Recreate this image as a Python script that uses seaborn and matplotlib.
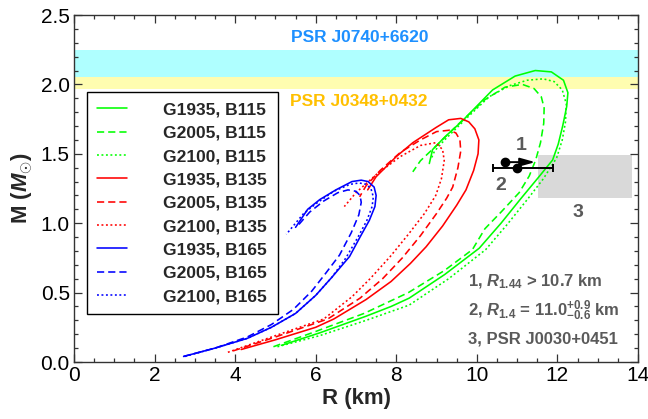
import matplotlib
matplotlib.use("Agg")
import matplotlib.pyplot as plt
from matplotlib.ticker import MultipleLocator, FormatStrFormatter
from matplotlib.patches import Rectangle
import seaborn as sns

# ---------------- data ----------------
labels = ["G1935, B115", "G2005, B115", "G2100, B115",
          "G1935, B135", "G2005, B135", "G2100, B135",
          "G1935, B165", "G2005, B165", "G2100, B165"]

R_G1935_B115 = [5.15, 6.1, 7.25, 7.87, 8.32, 9.2, 10.06, 10.6, 11.1, 11.5, 11.88, 12.02, 12.13, 12.23, 12.26, 12.15, 11.85, 11.45, 10.95, 10.39, 9.65, 9.2, 8.9, 8.82]
M_G1935_B115 = [0.12, 0.21, 0.33, 0.40, 0.46, 0.63, 0.82, 1.00, 1.18, 1.32, 1.455, 1.57, 1.70, 1.84, 1.94, 2.03, 2.09, 2.10, 2.06, 1.96, 1.74, 1.62, 1.53, 1.43]

R_G2005_B115 = [4.95, 6.0, 7.2, 8.3, 9.2, 9.89, 10.2, 10.6, 11.05, 11.3, 11.46, 11.58, 11.66, 11.67, 11.6, 11.42, 11.13, 10.7, 10.2, 9.6, 9.0, 8.6, 8.41]
M_G2005_B115 = [0.11, 0.22, 0.35, 0.50, 0.66, 0.81, 0.96, 1.08, 1.22, 1.34, 1.455, 1.58, 1.72, 1.83, 1.91, 1.97, 2.00, 1.98, 1.89, 1.73, 1.56, 1.45, 1.37]

R_G2100_B115 = [5.05, 6.1, 7.25, 8.32, 9.3, 10.22, 10.75, 11.25, 11.65, 11.98, 12.12, 12.2, 12.22, 12.12, 11.92, 11.65, 11.25, 10.8, 10.3, 9.65, 9.2, 8.95, 8.86]
M_G2100_B115 = [0.11, 0.19, 0.30, 0.41, 0.60, 0.81, 0.99, 1.17, 1.32, 1.47, 1.60, 1.73, 1.86, 1.96, 2.02, 2.04, 2.03, 1.99, 1.91, 1.73, 1.60, 1.52, 1.46]

R_G1935_B135 = [4.15, 5.0, 6.0, 6.45, 7.25, 7.87, 8.35, 8.74, 9.15, 9.5, 9.73, 9.92, 10.03, 10.05, 9.95, 9.8, 9.6, 9.3, 8.99, 8.41, 8.0, 7.5, 7.29]
M_G1935_B135 = [0.09, 0.16, 0.25, 0.31, 0.45, 0.58, 0.71, 0.83, 0.98, 1.13, 1.24, 1.38, 1.50, 1.60, 1.68, 1.73, 1.755, 1.745, 1.69, 1.58, 1.48, 1.335, 1.24]

R_G2005_B135 = [3.95, 5.0, 6.3, 7.1, 7.66, 8.15, 8.6, 9.0, 9.25, 9.40, 9.53, 9.6, 9.58, 9.48, 9.32, 9.0, 8.6, 8.1, 7.6, 7.25, 7.09]
M_G2005_B135 = [0.08, 0.18, 0.31, 0.46, 0.60, 0.75, 0.91, 1.07, 1.18, 1.26, 1.40, 1.52, 1.60, 1.65, 1.67, 1.66, 1.60, 1.51, 1.38, 1.27, 1.19]

R_G2100_B135 = [3.82, 5.0, 6.2, 6.9, 7.35, 7.85, 8.3, 8.7, 8.98, 9.12, 9.19, 9.15, 8.98, 8.6, 8.1, 7.5, 7.0, 6.71]
M_G2100_B135 = [0.07, 0.19, 0.31, 0.47, 0.60, 0.76, 0.92, 1.07, 1.20, 1.32, 1.45, 1.53, 1.58, 1.56, 1.48, 1.35, 1.22, 1.12]

R_G1935_B165 = [2.72, 3.5, 4.3, 4.9, 5.5, 6.0, 6.4, 6.84, 7.1, 7.33, 7.47, 7.5, 7.45, 7.3, 7.13, 6.9, 6.5, 6.1, 5.8, 5.5]
M_G1935_B165 = [0.04, 0.10, 0.17, 0.25, 0.35, 0.48, 0.61, 0.76, 0.90, 1.02, 1.12, 1.20, 1.26, 1.30, 1.31, 1.30, 1.24, 1.17, 1.10, 0.97]

R_G2005_B165 = [2.72, 3.5, 4.3, 4.9, 5.45, 5.9, 6.25, 6.59, 6.88, 7.07, 7.13, 7.1, 7.0, 6.8, 6.55, 6.2, 5.85, 5.52]
M_G2005_B165 = [0.04, 0.10, 0.18, 0.27, 0.38, 0.51, 0.64, 0.77, 0.93, 1.06, 1.15, 1.20, 1.23, 1.24, 1.22, 1.16, 1.08, 0.97]

R_G2100_B165 = [2.75, 3.5, 4.3, 4.9, 5.5, 6.0, 6.4, 6.75, 7.05, 7.27, 7.40, 7.43, 7.37, 7.25, 7.08, 6.85, 6.45, 6.05, 5.7, 5.27]
M_G2100_B165 = [0.04, 0.10, 0.17, 0.25, 0.35, 0.48, 0.61, 0.75, 0.90, 1.02, 1.12, 1.19, 1.25, 1.28, 1.29, 1.28, 1.23, 1.15, 1.07, 0.92]

# observational constraints
band_J0740 = (2.05, 2.25)      # PSR J0740+6620 mass band
band_J0348 = (1.97, 2.05)      # PSR J0348+0432 mass band
J0030_R = (11.52, 13.85)       # PSR J0030+0451 radius range
J0030_M = (1.18, 1.49)         # PSR J0030+0451 mass range
c1_R, c1_M, c1_arrow_end = 10.7, 1.44, 11.45
c2_R, c2_M, c2_lo, c2_hi = 11.0, 1.40, 0.6, 0.9

# ---------------- style ----------------
sns.set_style("ticks")
plt.rcParams["font.family"] = ["Liberation Sans", "DejaVu Sans"]
plt.rcParams["mathtext.fontset"] = "custom"
plt.rcParams["mathtext.rm"] = "Liberation Sans:bold"
plt.rcParams["mathtext.it"] = "Liberation Sans:italic:bold"
plt.rcParams["mathtext.bf"] = "Liberation Sans:bold"

fig = plt.figure(figsize=(6.48, 4.19), dpi=100)
ax = fig.add_axes([74/648, 1-362/419, (638-74)/648, (362-15)/419])

# bands
ax.axhspan(*band_J0348, color="#FFFDB0", lw=0, zorder=0)
ax.axhspan(*band_J0740, color="#AFFFFF", lw=0, zorder=0.1)
ax.add_patch(Rectangle((J0030_R[0], J0030_M[0]), J0030_R[1]-J0030_R[0],
                       J0030_M[1]-J0030_M[0], facecolor="#D9D9D9", lw=0, zorder=0.2))

curves = [
    (R_G1935_B115, M_G1935_B115, "#00FF00", "-"),
    (R_G2005_B115, M_G2005_B115, "#00FF00", (0, (4.5, 2.5))),
    (R_G2100_B115, M_G2100_B115, "#00FF00", (0, (1.2, 1.6))),
    (R_G1935_B135, M_G1935_B135, "#FF0000", "-"),
    (R_G2005_B135, M_G2005_B135, "#FF0000", (0, (4.5, 2.5))),
    (R_G2100_B135, M_G2100_B135, "#FF0000", (0, (1.2, 1.6))),
    (R_G1935_B165, M_G1935_B165, "#0000FF", "-"),
    (R_G2005_B165, M_G2005_B165, "#0000FF", (0, (4.5, 2.5))),
    (R_G2100_B165, M_G2100_B165, "#0000FF", (0, (1.2, 1.6))),
]
for (r, m, c, ls), lab in zip(curves, labels):
    sns.lineplot(x=r, y=m, sort=False, estimator=None, color=c, linestyle=ls,
                 lw=1.15, ax=ax, label=lab, zorder=3)

# constraint 1 (arrow) and 2 (error bar)
ax.plot([c1_R], [c1_M], "o", color="black", ms=6, zorder=5)
ax.annotate("", xy=(c1_arrow_end, c1_M), xytext=(c1_R, c1_M),
            arrowprops=dict(arrowstyle="-|>,head_length=0.9,head_width=0.25",
                            color="black", lw=1.4, shrinkA=0, shrinkB=0), zorder=5)
ax.errorbar([c2_R], [c2_M], xerr=[[c2_lo], [c2_hi]], fmt="o", color="black",
            ms=6, capsize=3, elinewidth=1.4, capthick=1.4, zorder=5)

gray = "#5A5A5A"
ax.text(11.1, 1.56, "1", color=gray, fontsize=14, fontweight="bold", ha="center", va="center")
ax.text(10.6, 1.27, "2", color=gray, fontsize=14, fontweight="bold", ha="center", va="center")
ax.text(12.5, 1.08, "3", color=gray, fontsize=14, fontweight="bold", ha="center", va="center")

ax.text(9.79, 0.576, r"1, $R_{1.44}$ > 10.7 km", color=gray, fontsize=12,
        fontweight="bold", ha="left", va="center")
ax.text(9.79, 0.367, r"2, $R_{1.4}$ = 11.0$^{+0.9}_{-0.6}$ km", color=gray, fontsize=12,
        fontweight="bold", ha="left", va="center")
ax.text(9.79, 0.166, "3, PSR J0030+0451", color=gray, fontsize=12,
        fontweight="bold", ha="left", va="center")

ax.text(7.09, 2.34, "PSR J0740+6620", color="#1E90FF", fontsize=12.5,
        fontweight="bold", ha="center", va="center")
ax.text(5.35, 1.88, "PSR J0348+0432", color="#FFC000", fontsize=12.5,
        fontweight="bold", ha="left", va="center")

# axes
ax.set_xlim(0, 14)
ax.set_ylim(0, 2.5)
ax.xaxis.set_major_locator(MultipleLocator(2))
ax.xaxis.set_minor_locator(MultipleLocator(0.5))
ax.yaxis.set_major_locator(MultipleLocator(0.5))
ax.yaxis.set_minor_locator(MultipleLocator(0.1))
ax.yaxis.set_major_formatter(FormatStrFormatter("%.1f"))
ax.tick_params(which="both", direction="in", top=True, right=True, colors="#333333",
               labelcolor="black", width=0.9)
ax.tick_params(which="major", length=6, labelsize=15, pad=3)
ax.tick_params(which="minor", length=3)
for s in ax.spines.values():
    s.set_color("#333333")
    s.set_linewidth(1.0)
ax.set_xlabel("R (km)", fontsize=16, fontweight="bold", labelpad=2)
ax.set_ylabel(r"M ($M_{\odot}$)", fontsize=16, fontweight="bold", labelpad=4)

leg = ax.legend(loc="upper left", bbox_to_anchor=(13/564, (362-92)/347), borderaxespad=0,
                fancybox=False, frameon=True, edgecolor="black", framealpha=1,
                prop={"weight": "bold", "size": 12.5}, handlelength=1.7,
                handletextpad=2.1, labelspacing=0.47, borderpad=0.6)
leg.get_frame().set_linewidth(1.0)

fig.savefig("out.png", dpi=100)
